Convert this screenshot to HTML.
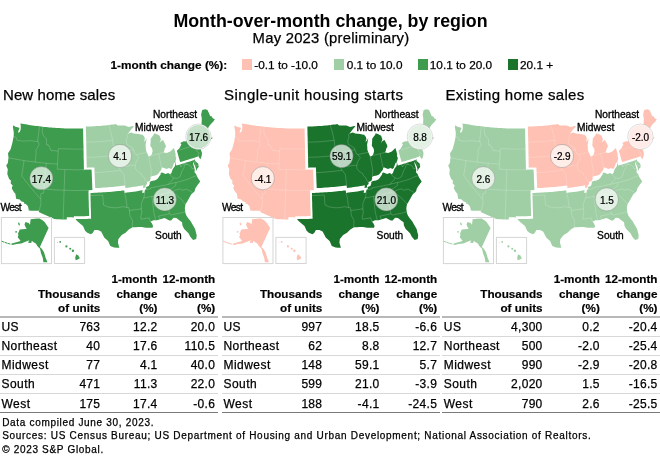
<!DOCTYPE html>
<html><head><meta charset="utf-8">
<style>
html,body{margin:0;padding:0;background:#fff;}
body{width:660px;height:466px;position:relative;overflow:hidden;font-family:"Liberation Sans",sans-serif;color:#000;}
svg.map{position:absolute;left:0;top:0;font-family:"Liberation Sans",sans-serif;}
.t{position:absolute;white-space:nowrap;}
body{will-change:transform;}
.t{-webkit-text-stroke:.25px #000;}
.t.b{-webkit-text-stroke:.18px #000;}
.t.ti{-webkit-text-stroke:0;}
.sw,.ln{position:absolute;}
</style></head><body>
<svg class="map" width="660" height="466" viewBox="0 0 660 466">
<g><path d="M13.3,125.2 15.4,126.8 18.4,127.6 19.6,127.9 18.5,130.6 18.0,132.8 19.8,132.1 20.7,129.2 20.8,126.1 20.4,123.4 22.1,123.7 23.8,124.0 25.6,124.3 27.3,124.6 29.0,124.9 30.8,125.2 32.5,125.4 34.2,125.7 35.9,125.9 37.7,126.1 39.4,126.3 41.1,126.5 42.8,126.7 44.5,126.9 46.2,127.1 47.8,127.2 49.5,127.4 51.2,127.5 52.9,127.7 54.6,127.8 56.3,127.9 58.0,128.0 59.7,128.1 61.4,128.2 63.0,128.3 64.9,128.4 66.7,128.4 68.5,128.5 70.3,128.5 72.2,128.6 74.0,128.6 75.8,128.6 77.6,128.6 79.4,128.6 81.3,128.6 83.1,128.5 83.1,131.1 83.2,133.7 83.2,136.3 83.3,139.0 83.3,141.6 83.4,144.2 83.5,147.2 83.5,150.3 83.6,153.3 83.6,156.3 83.7,159.4 83.8,161.9 83.8,164.5 83.9,167.1 83.9,169.7 85.8,169.6 87.7,169.6 89.6,169.5 91.5,169.5 91.7,172.0 91.8,174.6 91.9,177.2 92.0,179.8 92.1,182.4 92.2,185.0 92.3,187.6 92.4,190.1 88.6,190.3 88.5,192.9 88.6,195.4 88.6,198.0 88.7,200.6 88.8,203.2 88.8,205.8 88.9,208.3 89.0,210.9 89.1,213.5 89.1,216.1 86.9,216.1 84.7,216.2 82.5,216.2 80.3,216.2 78.1,216.2 75.9,216.2 73.7,216.2 74.1,217.4 71.7,217.3 69.3,217.3 66.8,217.2 66.8,219.6 64.3,219.5 61.8,219.4 59.3,219.3 56.8,219.2 54.3,219.0 52.1,218.1 49.8,217.1 47.6,216.1 45.3,215.0 43.1,214.0 40.9,212.9 38.7,211.9 39.2,210.7 36.6,210.7 34.0,210.7 31.4,210.7 28.8,210.6 28.5,208.6 27.8,205.9 25.5,203.8 24.2,203.7 24.0,202.2 21.2,201.2 19.7,199.6 16.1,198.8 15.8,196.4 15.4,193.7 13.8,191.9 11.9,188.4 12.0,186.9 12.8,185.7 10.7,183.5 10.9,180.4 9.1,179.0 7.3,173.9 7.8,169.2 6.2,165.5 7.9,162.9 8.2,160.3 8.5,157.8 8.0,153.3 10.6,149.2 11.5,146.0 12.4,142.8 13.0,139.7 13.6,136.7 13.8,133.1 13.4,130.1 12.9,127.2Z" fill="#3E9C4E"/>
<path d="M13.5,136.4 16.2,137.5 17.1,140.3 19.0,140.6 20.8,140.9 22.7,141.2 24.7,141.1 26.6,140.9 28.5,140.8 30.7,140.7 32.5,140.9 34.3,141.2 36.2,141.4 38.0,141.6 M38.0,141.6 37.8,139.5 38.1,136.9 38.5,134.2 38.8,131.6 39.1,129.0 39.4,126.3 M38.0,141.6 39.2,144.4 37.7,147.3 35.9,150.2 36.2,152.8 35.9,155.9 35.5,159.0 35.1,162.1 M8.5,157.8 10.4,158.2 12.3,158.5 14.2,158.9 16.1,159.2 18.0,159.5 19.9,159.9 21.8,160.2 23.7,160.5 25.6,160.8 27.5,161.1 29.4,161.3 31.3,161.6 33.2,161.8 35.1,162.1 37.1,162.3 39.2,162.5 41.2,162.8 43.2,163.0 45.3,163.1 47.3,163.3 49.3,163.5 51.4,163.7 53.4,163.8 55.5,163.9 57.5,164.1 M24.0,160.5 23.7,163.1 23.3,165.7 22.9,168.2 22.5,170.8 22.1,173.3 21.7,175.9 23.5,178.2 25.3,180.6 27.1,182.9 29.0,185.3 30.8,187.6 32.8,189.9 34.7,192.2 36.7,194.5 38.6,196.8 40.7,199.1 M46.3,163.2 46.0,165.8 45.8,168.4 45.6,171.0 45.3,173.5 45.1,176.1 44.9,178.7 44.7,181.3 44.4,183.9 44.2,186.4 44.0,189.0 43.6,193.1 40.9,193.7 40.8,196.4 40.7,199.1 41.0,203.3 40.1,207.0 39.2,210.7 M42.7,126.7 42.4,129.3 42.2,131.9 43.0,135.0 44.7,137.1 46.5,139.2 46.5,142.2 46.6,145.1 48.4,144.8 49.8,147.7 51.2,150.7 53.7,150.6 56.0,150.9 58.2,151.2 M58.4,148.6 58.2,151.2 58.1,153.7 57.9,156.3 57.8,158.9 57.6,161.5 57.5,164.1 57.4,166.6 57.2,169.2 59.1,169.3 61.0,169.4 62.9,169.5 64.8,169.6 M58.4,148.6 60.2,148.7 62.0,148.8 63.7,148.8 65.5,148.9 67.3,149.0 69.1,149.0 70.9,149.0 72.7,149.1 74.5,149.1 76.3,149.1 78.1,149.1 79.9,149.1 81.7,149.1 83.5,149.0 M64.8,169.6 66.7,169.6 68.7,169.7 70.6,169.7 72.5,169.7 74.4,169.8 76.3,169.8 78.2,169.8 80.1,169.7 82.0,169.7 83.9,169.7 85.8,169.6 87.7,169.6 89.6,169.5 91.5,169.5 M64.8,169.6 64.7,172.2 64.7,174.8 64.6,177.5 64.5,180.1 64.4,182.7 64.3,185.4 64.2,188.0 64.1,190.6 64.0,193.2 63.9,195.9 63.8,198.5 63.8,201.1 63.7,203.7 63.6,206.4 63.5,209.0 63.4,211.6 63.3,214.2 63.2,216.8 63.1,219.4 M44.0,189.0 46.0,189.2 48.0,189.3 50.0,189.5 52.1,189.6 54.1,189.8 56.1,189.9 58.1,190.0 60.2,190.1 62.2,190.2 64.2,190.2 66.3,190.3 68.3,190.4 70.3,190.4 72.3,190.4 74.4,190.5 76.4,190.5 78.4,190.5 80.5,190.4 82.5,190.4 84.5,190.4 86.5,190.3 88.6,190.3" fill="none" stroke="#fff" stroke-opacity=".38" stroke-width=".5"/>
<path d="M85.9,126.5 87.7,126.5 89.4,126.4 91.2,126.4 92.9,126.3 94.7,126.2 96.5,126.1 98.2,126.0 100.0,125.9 101.8,125.8 103.5,125.6 105.3,125.4 107.0,125.2 108.8,125.0 110.5,124.8 112.3,124.6 114.0,124.4 115.8,124.1 117.1,125.0 117.8,125.4 119.7,125.5 121.6,125.6 124.7,125.6 126.7,126.3 128.7,126.9 130.7,126.4 132.7,125.9 134.0,126.3 131.5,129.0 129.6,131.4 127.7,133.9 129.5,133.1 131.4,132.4 133.7,133.5 136.2,133.8 138.8,134.1 140.7,134.5 142.6,134.8 144.4,137.0 144.9,139.1 143.9,141.9 145.5,140.5 146.8,137.8 146.2,141.2 145.6,144.7 145.8,147.3 145.9,149.9 146.8,152.3 148.2,155.4 149.1,156.4 150.5,155.7 151.8,154.3 152.6,151.0 152.1,148.4 150.3,145.7 150.6,141.9 150.7,138.7 152.1,136.8 153.5,134.9 154.2,133.2 157.0,134.2 159.6,135.7 160.9,139.3 159.6,143.1 161.0,141.1 163.0,140.0 164.3,142.5 165.6,144.9 165.9,147.0 164.7,148.4 164.4,150.3 163.6,152.4 166.7,152.9 168.5,152.2 170.3,151.6 172.1,149.8 173.9,147.9 174.9,151.3 175.8,155.0 175.3,155.4 176.3,158.1 175.8,160.6 173.7,163.8 172.3,167.8 171.0,169.1 169.0,167.9 166.5,169.0 162.9,167.5 161.6,167.8 161.4,169.7 159.9,171.4 159.0,172.8 157.6,174.6 155.3,175.6 152.4,176.0 150.5,177.1 150.7,178.7 149.7,181.0 146.9,182.1 147.2,184.1 145.8,184.9 145.5,186.3 145.6,187.6 143.0,188.0 143.4,185.3 141.2,185.7 139.0,186.1 136.7,186.5 134.5,186.8 132.2,187.1 130.0,187.5 127.7,187.8 125.5,188.1 125.1,185.5 123.0,185.8 120.9,186.0 118.7,186.3 116.6,186.5 114.5,186.7 112.3,186.9 110.2,187.1 108.1,187.3 105.9,187.5 103.8,187.6 101.6,187.8 99.5,187.9 97.4,188.0 95.2,188.1 95.1,185.5 95.0,183.0 94.9,180.4 94.8,177.8 94.7,175.2 94.6,172.6 94.5,170.0 94.4,167.4 92.4,167.5 90.5,167.6 88.6,167.6 86.7,167.7 86.7,165.1 86.6,162.5 86.6,159.9 86.5,157.3 86.5,154.8 86.4,152.2 86.4,149.6 86.3,147.0 86.3,144.5 86.2,141.9 86.2,139.3 86.1,136.7 86.0,134.2 86.0,131.6 85.9,129.1Z" fill="#A0CFA5"/>
<path d="M86.2,142.2 88.1,142.1 90.0,142.1 91.9,142.0 93.8,141.9 95.7,141.9 97.6,141.8 99.5,141.7 101.3,141.5 103.2,141.3 105.1,141.1 107.0,140.9 108.9,140.7 110.8,140.5 112.7,140.3 M108.8,125.0 109.8,128.5 110.8,132.0 111.4,134.7 112.0,137.5 112.7,140.3 113.0,143.6 113.4,146.6 113.9,149.7 114.3,152.7 M86.5,157.3 88.4,157.3 90.3,157.2 92.1,157.2 94.0,157.1 95.9,157.0 97.7,156.9 99.6,156.8 101.4,156.7 103.3,156.5 105.2,156.3 107.0,156.1 109.5,156.3 111.9,156.4 114.9,157.8 M114.3,152.7 114.2,156.9 114.9,157.8 M114.3,152.7 116.3,152.5 118.2,152.2 120.1,151.9 122.0,151.7 123.9,151.4 125.8,151.1 127.7,150.8 129.7,150.4 131.6,150.1 133.5,149.8 M133.5,149.8 132.8,147.8 130.7,146.6 128.7,145.4 126.7,144.4 126.3,140.1 127.5,137.3 127.0,134.2 M94.6,172.6 96.6,172.5 98.6,172.4 100.6,172.3 102.6,172.2 104.6,172.0 106.6,171.8 108.6,171.7 110.6,171.5 112.6,171.3 114.6,171.0 116.6,170.8 118.6,170.6 120.6,170.3 M114.9,157.8 116.8,160.2 117.4,162.7 117.9,165.3 118.9,167.3 120.6,170.3 122.5,172.8 123.9,174.7 124.2,177.4 124.5,180.1 124.8,182.8 125.1,185.5 M118.5,167.4 120.4,167.1 122.4,166.9 124.3,166.6 126.2,166.3 128.2,166.0 130.1,165.7 132.0,165.4 134.0,165.1 135.3,166.0 M133.5,149.8 134.6,153.5 136.3,154.5 138.8,157.7 137.7,159.4 135.9,162.5 135.3,166.0 135.2,168.2 137.9,171.6 141.2,173.6 141.5,175.2 144.4,177.8 145.3,180.8 146.9,182.1 M136.3,154.5 138.4,154.1 140.5,153.6 142.6,153.2 144.7,152.8 146.8,152.3 M148.6,156.1 149.2,159.2 149.8,162.4 150.4,165.6 151.0,168.8 151.3,171.7 151.1,174.4 150.9,177.0 M149.8,155.8 152.0,155.3 154.2,154.8 156.4,154.3 158.7,153.7 M158.6,153.7 159.2,156.5 159.8,159.3 160.4,162.2 161.0,165.0 161.6,167.8 M158.7,153.7 161.1,153.0 163.6,152.3" fill="none" stroke="#fff" stroke-opacity=".38" stroke-width=".5"/>
<path d="M90.5,193.0 92.7,192.9 94.8,192.8 96.9,192.7 99.0,192.6 101.1,192.5 103.2,192.3 105.3,192.2 107.4,192.0 109.6,191.9 111.7,191.7 113.8,191.5 115.9,191.3 118.0,191.1 120.1,190.9 122.2,190.6 124.3,190.4 124.6,192.9 126.9,192.6 129.1,192.3 131.4,192.0 133.6,191.7 135.9,191.4 138.1,191.0 140.4,190.6 142.6,190.3 142.2,193.0 144.7,192.5 144.6,191.2 145.0,189.8 146.3,189.1 146.1,187.0 148.8,186.0 149.8,183.7 149.7,182.1 151.5,181.0 154.5,180.6 156.7,179.6 158.2,177.9 159.1,176.4 160.5,174.8 160.8,172.9 162.0,172.6 165.6,174.1 168.2,173.0 170.1,174.2 171.4,172.9 172.8,168.9 175.0,166.0 175.4,163.7 174.5,161.3 175.0,161.0 176.3,165.5 178.2,165.0 180.1,164.4 182.1,163.8 184.1,163.2 186.0,162.6 188.0,162.0 189.9,161.4 191.9,160.7 193.8,160.1 195.1,159.2 194.9,160.4 196.0,161.7 198.1,163.6 198.6,165.3 198.7,166.9 197.3,168.6 195.8,171.5 196.0,169.1 195.4,166.8 194.0,163.9 193.0,161.6 193.0,163.8 194.1,167.3 194.7,169.5 194.6,172.5 196.1,174.0 197.4,177.3 200.2,181.6 198.7,183.6 197.2,185.6 195.3,188.5 194.6,191.3 193.2,192.7 191.5,194.1 190.0,196.6 188.5,199.2 187.1,201.8 185.5,204.3 184.8,208.3 185.4,212.9 186.5,215.7 188.4,218.4 190.7,221.2 192.2,223.9 193.7,226.6 195.2,229.3 195.9,232.3 196.7,235.3 196.2,238.9 193.1,240.1 190.3,236.7 188.5,233.2 184.2,229.1 182.4,225.4 182.1,222.2 179.9,220.7 176.4,217.9 173.6,217.7 171.1,220.4 169.3,220.6 164.6,218.0 162.1,218.8 159.5,219.5 157.0,220.3 153.4,220.2 150.5,221.8 151.7,223.1 153.1,226.0 152.5,227.7 149.3,227.7 145.7,227.8 141.5,226.9 138.3,227.1 135.4,227.2 132.5,227.2 128.8,229.5 125.5,232.7 121.7,235.1 118.4,239.0 117.9,242.6 118.6,245.1 119.3,247.6 119.5,247.8 116.8,247.7 114.1,247.5 110.3,246.1 109.2,243.5 108.1,240.9 104.2,237.6 102.7,234.6 101.1,231.6 97.9,230.0 94.4,229.9 92.7,233.0 90.9,234.2 87.3,232.7 85.1,230.7 83.0,226.1 78.8,222.5 76.1,220.1 75.7,218.9 77.9,218.9 80.1,218.9 82.3,218.9 84.5,218.9 86.7,218.9 88.9,218.8 91.1,218.7 91.0,216.2 91.0,213.6 90.9,211.0 90.8,208.5 90.7,205.9 90.7,203.3 90.6,200.7 90.5,198.1 90.5,195.6Z" fill="#3E9C4E"/>
<path d="M90.5,195.6 92.5,195.5 94.6,195.4 96.6,195.3 98.7,195.2 100.8,195.1 102.8,195.0 103.0,198.3 103.2,201.6 103.5,205.0 105.8,206.0 108.2,207.0 111.2,207.4 114.2,207.8 116.3,207.7 118.4,207.6 120.5,207.2 122.6,206.7 124.8,207.1 127.0,207.5 M124.6,192.9 125.3,195.7 126.0,198.5 126.3,201.5 126.7,204.5 127.0,207.5 128.9,207.7 129.3,210.5 M129.3,210.5 131.7,210.2 134.1,209.9 136.5,209.5 139.0,209.2 141.4,208.8 M129.3,210.5 129.6,213.2 130.0,215.9 132.5,220.5 132.3,224.1 132.3,227.2 M144.7,192.5 144.0,197.4 143.4,198.5 141.3,203.6 141.3,206.2 141.4,208.8 141.8,212.3 140.8,216.7 141.0,219.2 143.7,218.8 146.5,218.3 149.2,217.9 150.5,221.8 M143.3,198.0 145.4,197.6 147.4,197.3 149.4,196.9 151.5,196.5 153.5,196.1 155.6,195.7 157.6,195.3 159.6,194.8 161.6,194.4 163.7,193.9 165.7,193.5 167.7,193.0 170.1,192.4 172.6,191.8 M145.0,189.8 148.0,189.3 150.9,188.7 150.7,187.8 152.9,187.4 155.1,187.0 157.3,186.6 159.5,186.2 161.7,185.8 163.9,185.3 166.1,184.8 168.3,184.4 170.9,183.7 173.5,183.1 176.1,182.4 M151.9,196.4 152.2,199.1 152.5,201.7 152.9,204.4 153.2,207.0 153.5,209.7 153.8,212.3 154.4,214.8 155.0,217.3 155.5,219.8 M162.5,194.2 163.6,196.8 164.7,199.4 165.8,202.0 166.9,204.6 168.0,207.2 168.8,210.5 169.5,213.7 167.3,214.2 165.1,214.7 162.9,215.2 160.6,215.7 158.4,216.1 159.9,219.0 M169.5,213.7 170.5,215.1 172.9,214.6 175.4,214.1 177.9,213.6 180.3,213.1 182.8,212.5 185.0,211.4 M172.6,191.8 175.0,193.8 177.5,195.9 181.6,199.6 183.5,201.8 185.5,204.1 M167.7,193.0 170.3,189.5 172.1,188.2 173.9,186.9 175.7,185.7 176.1,182.4 M172.6,191.8 175.5,190.0 178.0,189.4 180.6,188.9 182.1,190.3 184.3,189.7 186.5,189.1 189.5,190.7 192.5,192.4 M176.2,182.6 178.3,182.0 180.3,181.4 182.4,180.9 184.4,180.3 186.5,179.6 188.6,179.0 189.9,178.4 191.1,177.7 192.5,177.1 194.5,176.4 196.6,175.7 M168.3,184.4 170.5,181.9 172.8,179.5 173.7,177.9 170.4,175.3 170.1,174.2 M173.7,177.9 177.1,178.6 180.2,176.4 182.0,171.0 183.9,167.7 184.8,164.5 187.2,164.4 190.3,165.7 190.8,166.1 192.2,168.9 194.8,168.2 M180.1,164.4 180.9,167.0 182.9,164.3 184.9,163.1 187.2,164.4 M193.8,160.1 195.0,163.1 196.3,165.9 198.7,165.1" fill="none" stroke="#fff" stroke-opacity=".38" stroke-width=".5"/>
<path d="M176.9,150.8 179.3,148.6 181.4,144.5 180.3,142.9 182.1,142.1 183.9,141.3 185.5,141.4 187.1,140.5 188.7,139.5 189.9,138.3 188.5,135.3 189.9,133.7 189.9,130.1 190.8,129.5 192.6,128.8 194.4,128.2 196.2,127.5 198.0,126.8 199.8,126.1 201.4,125.4 201.5,123.2 201.7,122.1 201.8,118.5 201.1,114.6 202.2,109.9 205.3,109.2 207.5,109.9 208.9,113.1 210.3,116.3 211.6,116.2 212.7,118.3 214.8,119.3 213.4,121.6 210.9,123.9 209.6,125.5 207.9,128.3 207.4,129.9 208.1,133.3 208.0,134.8 209.1,135.5 208.4,137.8 210.4,138.1 212.3,137.6 211.8,136.1 212.6,138.0 210.5,139.4 209.6,141.7 207.3,143.6 205.5,144.5 203.7,145.4 201.6,147.5 200.7,149.5 201.2,150.7 202.0,152.9 201.7,155.8 200.5,159.3 199.4,157.9 198.6,156.8 198.4,155.7 197.7,156.6 195.7,157.2 193.8,157.9 191.9,158.5 189.9,159.1 188.0,159.7 186.0,160.3 184.0,160.9 182.1,161.5 180.1,162.1 179.3,159.2 178.5,156.4 177.7,153.6Z" fill="#3E9C4E"/>
<path d="M179.6,149.9 181.6,149.3 183.6,148.7 185.6,148.1 187.6,147.5 189.6,146.9 191.5,146.2 193.5,145.6 194.7,144.9 195.2,145.6 197.1,147.3 M197.1,147.3 200.2,148.1 200.7,149.5 M197.1,147.3 196.7,150.0 197.2,151.5 199.1,152.9 198.3,154.6 198.4,155.7 M195.4,127.8 196.6,131.2 197.9,134.6 199.7,138.6 200.1,142.3 201.8,146.9 201.4,147.6 M202.2,137.8 201.3,133.9 201.0,129.5 201.4,125.4 M199.8,138.7 202.0,137.8 204.3,137.0 206.5,136.1 207.7,135.0 M201.5,123.2 202.5,125.5 203.5,127.8 204.7,130.3 206.2,132.8 207.8,133.5 M200.1,142.4 202.1,141.7 204.1,140.9 206.1,140.2 207.6,139.6 207.8,140.2 209.5,141.8 M206.1,140.2 207.5,143.7" fill="none" stroke="#fff" stroke-opacity=".38" stroke-width=".5"/><rect x="1.4" y="217.5" width="50.1" height="46.1" fill="none" stroke="#d5d5d5" stroke-width="1"/>
<rect x="54.4" y="237.4" width="30.2" height="26.1" fill="none" stroke="#d5d5d5" stroke-width="1"/>
<path d="M30.6,219.2 35.0,218.7 39.4,218.6 42.5,220.2 44.6,222.1 48.6,227.9 39.9,247.0 42.0,249.0 44.0,252.2 45.7,258.0 47.5,262.2 43.4,262.2 42.8,258.0 41.1,253.4 40.0,248.7 37.5,246.2 35.8,243.5 33.2,242.0 31.9,240.8 31.2,243.0 28.0,242.7 29.3,240.3 26.1,241.6 21.3,243.6 16.4,244.1 12.6,244.9 10.8,244.0 12.6,243.3 16.4,242.3 20.6,241.0 19.7,239.8 17.7,237.2 18.4,235.3 18.0,233.4 19.0,231.5 19.7,229.5 25.5,228.9 26.7,228.9 25.5,226.9 24.5,224.4 25.5,222.1 28.7,223.1 30.0,224.7Z" fill="#3E9C4E"/>
<path d="M2.0,241.3 L3.8,242.1" stroke="#3E9C4E" stroke-width="1" stroke-linecap="round"/>
<path d="M5.0,242.4 L7.0,243.2" stroke="#3E9C4E" stroke-width="1" stroke-linecap="round"/>
<path d="M8.0,243.4 L10.0,244.0" stroke="#3E9C4E" stroke-width="1" stroke-linecap="round"/>
<ellipse cx="19" cy="224" rx=".7" ry="1.5" fill="#3E9C4E" transform="rotate(-20 19 224)"/><ellipse cx="16.1" cy="231.9" rx=".9" ry=".8" fill="#3E9C4E"/>
<circle cx="57.5" cy="242.6" r="0.45" fill="#3E9C4E"/>
<circle cx="60.2" cy="241.9" r="0.9" fill="#3E9C4E"/>
<circle cx="66.4" cy="246.4" r="1.1" fill="#3E9C4E"/>
<circle cx="70.2" cy="248.8" r="1.0" fill="#3E9C4E"/>
<circle cx="72.9" cy="250.8" r="1.2" fill="#3E9C4E"/>
<path d="M76.2,254.3 L78.2,255.6 L79.9,258.2 L77.8,259.6 L75.6,260.2 L75.2,257.5 Z" fill="#3E9C4E"/>
<circle cx="41.3" cy="178.2" r="11.6" fill="#fff" fill-opacity=".7" stroke="#6e6e6e" stroke-opacity=".45" stroke-width=".8"/>
<text x="41.4" y="182.6" text-anchor="middle" font-size="10" letter-spacing="-.1" stroke="#000" stroke-width=".22">17.4</text>
<circle cx="120" cy="156" r="11.6" fill="#fff" fill-opacity=".7" stroke="#6e6e6e" stroke-opacity=".45" stroke-width=".8"/>
<text x="120.1" y="160.4" text-anchor="middle" font-size="10" letter-spacing="-.1" stroke="#000" stroke-width=".22">4.1</text>
<circle cx="164.8" cy="199.4" r="11.6" fill="#fff" fill-opacity=".7" stroke="#6e6e6e" stroke-opacity=".45" stroke-width=".8"/>
<text x="164.9" y="203.8" text-anchor="middle" font-size="10" letter-spacing="-.1" stroke="#000" stroke-width=".22">11.3</text>
<circle cx="198.4" cy="136.7" r="12.7" fill="#fff" stroke="#8c8c8c" stroke-opacity=".5" stroke-width=".6"/>
<circle cx="198.4" cy="136.7" r="11.7" fill="#c5e1ca"/>
<text x="198.5" y="141.1" text-anchor="middle" font-size="10" letter-spacing="-.1" stroke="#000" stroke-width=".22">17.6</text>
<text x="153.0" y="117.9" font-size="10.2" stroke="#000" stroke-width=".32" letter-spacing="0">Northeast</text>
<text x="135.0" y="130.8" font-size="10.2" stroke="#000" stroke-width=".32" letter-spacing="0">Midwest</text>
<text x="0.4" y="210.70000000000002" font-size="10.2" stroke="#000" stroke-width=".32" letter-spacing="-0.6">West</text>
<text x="155.1" y="239.0" font-size="10.2" stroke="#000" stroke-width=".32" letter-spacing="0">South</text></g>
<g transform="translate(221.5,0)"><path d="M13.3,125.2 15.4,126.8 18.4,127.6 19.6,127.9 18.5,130.6 18.0,132.8 19.8,132.1 20.7,129.2 20.8,126.1 20.4,123.4 22.1,123.7 23.8,124.0 25.6,124.3 27.3,124.6 29.0,124.9 30.8,125.2 32.5,125.4 34.2,125.7 35.9,125.9 37.7,126.1 39.4,126.3 41.1,126.5 42.8,126.7 44.5,126.9 46.2,127.1 47.8,127.2 49.5,127.4 51.2,127.5 52.9,127.7 54.6,127.8 56.3,127.9 58.0,128.0 59.7,128.1 61.4,128.2 63.0,128.3 64.9,128.4 66.7,128.4 68.5,128.5 70.3,128.5 72.2,128.6 74.0,128.6 75.8,128.6 77.6,128.6 79.4,128.6 81.3,128.6 83.1,128.5 83.1,131.1 83.2,133.7 83.2,136.3 83.3,139.0 83.3,141.6 83.4,144.2 83.5,147.2 83.5,150.3 83.6,153.3 83.6,156.3 83.7,159.4 83.8,161.9 83.8,164.5 83.9,167.1 83.9,169.7 85.8,169.6 87.7,169.6 89.6,169.5 91.5,169.5 91.7,172.0 91.8,174.6 91.9,177.2 92.0,179.8 92.1,182.4 92.2,185.0 92.3,187.6 92.4,190.1 88.6,190.3 88.5,192.9 88.6,195.4 88.6,198.0 88.7,200.6 88.8,203.2 88.8,205.8 88.9,208.3 89.0,210.9 89.1,213.5 89.1,216.1 86.9,216.1 84.7,216.2 82.5,216.2 80.3,216.2 78.1,216.2 75.9,216.2 73.7,216.2 74.1,217.4 71.7,217.3 69.3,217.3 66.8,217.2 66.8,219.6 64.3,219.5 61.8,219.4 59.3,219.3 56.8,219.2 54.3,219.0 52.1,218.1 49.8,217.1 47.6,216.1 45.3,215.0 43.1,214.0 40.9,212.9 38.7,211.9 39.2,210.7 36.6,210.7 34.0,210.7 31.4,210.7 28.8,210.6 28.5,208.6 27.8,205.9 25.5,203.8 24.2,203.7 24.0,202.2 21.2,201.2 19.7,199.6 16.1,198.8 15.8,196.4 15.4,193.7 13.8,191.9 11.9,188.4 12.0,186.9 12.8,185.7 10.7,183.5 10.9,180.4 9.1,179.0 7.3,173.9 7.8,169.2 6.2,165.5 7.9,162.9 8.2,160.3 8.5,157.8 8.0,153.3 10.6,149.2 11.5,146.0 12.4,142.8 13.0,139.7 13.6,136.7 13.8,133.1 13.4,130.1 12.9,127.2Z" fill="#FEC1B3"/>
<path d="M13.5,136.4 16.2,137.5 17.1,140.3 19.0,140.6 20.8,140.9 22.7,141.2 24.7,141.1 26.6,140.9 28.5,140.8 30.7,140.7 32.5,140.9 34.3,141.2 36.2,141.4 38.0,141.6 M38.0,141.6 37.8,139.5 38.1,136.9 38.5,134.2 38.8,131.6 39.1,129.0 39.4,126.3 M38.0,141.6 39.2,144.4 37.7,147.3 35.9,150.2 36.2,152.8 35.9,155.9 35.5,159.0 35.1,162.1 M8.5,157.8 10.4,158.2 12.3,158.5 14.2,158.9 16.1,159.2 18.0,159.5 19.9,159.9 21.8,160.2 23.7,160.5 25.6,160.8 27.5,161.1 29.4,161.3 31.3,161.6 33.2,161.8 35.1,162.1 37.1,162.3 39.2,162.5 41.2,162.8 43.2,163.0 45.3,163.1 47.3,163.3 49.3,163.5 51.4,163.7 53.4,163.8 55.5,163.9 57.5,164.1 M24.0,160.5 23.7,163.1 23.3,165.7 22.9,168.2 22.5,170.8 22.1,173.3 21.7,175.9 23.5,178.2 25.3,180.6 27.1,182.9 29.0,185.3 30.8,187.6 32.8,189.9 34.7,192.2 36.7,194.5 38.6,196.8 40.7,199.1 M46.3,163.2 46.0,165.8 45.8,168.4 45.6,171.0 45.3,173.5 45.1,176.1 44.9,178.7 44.7,181.3 44.4,183.9 44.2,186.4 44.0,189.0 43.6,193.1 40.9,193.7 40.8,196.4 40.7,199.1 41.0,203.3 40.1,207.0 39.2,210.7 M42.7,126.7 42.4,129.3 42.2,131.9 43.0,135.0 44.7,137.1 46.5,139.2 46.5,142.2 46.6,145.1 48.4,144.8 49.8,147.7 51.2,150.7 53.7,150.6 56.0,150.9 58.2,151.2 M58.4,148.6 58.2,151.2 58.1,153.7 57.9,156.3 57.8,158.9 57.6,161.5 57.5,164.1 57.4,166.6 57.2,169.2 59.1,169.3 61.0,169.4 62.9,169.5 64.8,169.6 M58.4,148.6 60.2,148.7 62.0,148.8 63.7,148.8 65.5,148.9 67.3,149.0 69.1,149.0 70.9,149.0 72.7,149.1 74.5,149.1 76.3,149.1 78.1,149.1 79.9,149.1 81.7,149.1 83.5,149.0 M64.8,169.6 66.7,169.6 68.7,169.7 70.6,169.7 72.5,169.7 74.4,169.8 76.3,169.8 78.2,169.8 80.1,169.7 82.0,169.7 83.9,169.7 85.8,169.6 87.7,169.6 89.6,169.5 91.5,169.5 M64.8,169.6 64.7,172.2 64.7,174.8 64.6,177.5 64.5,180.1 64.4,182.7 64.3,185.4 64.2,188.0 64.1,190.6 64.0,193.2 63.9,195.9 63.8,198.5 63.8,201.1 63.7,203.7 63.6,206.4 63.5,209.0 63.4,211.6 63.3,214.2 63.2,216.8 63.1,219.4 M44.0,189.0 46.0,189.2 48.0,189.3 50.0,189.5 52.1,189.6 54.1,189.8 56.1,189.9 58.1,190.0 60.2,190.1 62.2,190.2 64.2,190.2 66.3,190.3 68.3,190.4 70.3,190.4 72.3,190.4 74.4,190.5 76.4,190.5 78.4,190.5 80.5,190.4 82.5,190.4 84.5,190.4 86.5,190.3 88.6,190.3" fill="none" stroke="#fff" stroke-opacity=".38" stroke-width=".5"/>
<path d="M85.9,126.5 87.7,126.5 89.4,126.4 91.2,126.4 92.9,126.3 94.7,126.2 96.5,126.1 98.2,126.0 100.0,125.9 101.8,125.8 103.5,125.6 105.3,125.4 107.0,125.2 108.8,125.0 110.5,124.8 112.3,124.6 114.0,124.4 115.8,124.1 117.1,125.0 117.8,125.4 119.7,125.5 121.6,125.6 124.7,125.6 126.7,126.3 128.7,126.9 130.7,126.4 132.7,125.9 134.0,126.3 131.5,129.0 129.6,131.4 127.7,133.9 129.5,133.1 131.4,132.4 133.7,133.5 136.2,133.8 138.8,134.1 140.7,134.5 142.6,134.8 144.4,137.0 144.9,139.1 143.9,141.9 145.5,140.5 146.8,137.8 146.2,141.2 145.6,144.7 145.8,147.3 145.9,149.9 146.8,152.3 148.2,155.4 149.1,156.4 150.5,155.7 151.8,154.3 152.6,151.0 152.1,148.4 150.3,145.7 150.6,141.9 150.7,138.7 152.1,136.8 153.5,134.9 154.2,133.2 157.0,134.2 159.6,135.7 160.9,139.3 159.6,143.1 161.0,141.1 163.0,140.0 164.3,142.5 165.6,144.9 165.9,147.0 164.7,148.4 164.4,150.3 163.6,152.4 166.7,152.9 168.5,152.2 170.3,151.6 172.1,149.8 173.9,147.9 174.9,151.3 175.8,155.0 175.3,155.4 176.3,158.1 175.8,160.6 173.7,163.8 172.3,167.8 171.0,169.1 169.0,167.9 166.5,169.0 162.9,167.5 161.6,167.8 161.4,169.7 159.9,171.4 159.0,172.8 157.6,174.6 155.3,175.6 152.4,176.0 150.5,177.1 150.7,178.7 149.7,181.0 146.9,182.1 147.2,184.1 145.8,184.9 145.5,186.3 145.6,187.6 143.0,188.0 143.4,185.3 141.2,185.7 139.0,186.1 136.7,186.5 134.5,186.8 132.2,187.1 130.0,187.5 127.7,187.8 125.5,188.1 125.1,185.5 123.0,185.8 120.9,186.0 118.7,186.3 116.6,186.5 114.5,186.7 112.3,186.9 110.2,187.1 108.1,187.3 105.9,187.5 103.8,187.6 101.6,187.8 99.5,187.9 97.4,188.0 95.2,188.1 95.1,185.5 95.0,183.0 94.9,180.4 94.8,177.8 94.7,175.2 94.6,172.6 94.5,170.0 94.4,167.4 92.4,167.5 90.5,167.6 88.6,167.6 86.7,167.7 86.7,165.1 86.6,162.5 86.6,159.9 86.5,157.3 86.5,154.8 86.4,152.2 86.4,149.6 86.3,147.0 86.3,144.5 86.2,141.9 86.2,139.3 86.1,136.7 86.0,134.2 86.0,131.6 85.9,129.1Z" fill="#1A742C"/>
<path d="M86.2,142.2 88.1,142.1 90.0,142.1 91.9,142.0 93.8,141.9 95.7,141.9 97.6,141.8 99.5,141.7 101.3,141.5 103.2,141.3 105.1,141.1 107.0,140.9 108.9,140.7 110.8,140.5 112.7,140.3 M108.8,125.0 109.8,128.5 110.8,132.0 111.4,134.7 112.0,137.5 112.7,140.3 113.0,143.6 113.4,146.6 113.9,149.7 114.3,152.7 M86.5,157.3 88.4,157.3 90.3,157.2 92.1,157.2 94.0,157.1 95.9,157.0 97.7,156.9 99.6,156.8 101.4,156.7 103.3,156.5 105.2,156.3 107.0,156.1 109.5,156.3 111.9,156.4 114.9,157.8 M114.3,152.7 114.2,156.9 114.9,157.8 M114.3,152.7 116.3,152.5 118.2,152.2 120.1,151.9 122.0,151.7 123.9,151.4 125.8,151.1 127.7,150.8 129.7,150.4 131.6,150.1 133.5,149.8 M133.5,149.8 132.8,147.8 130.7,146.6 128.7,145.4 126.7,144.4 126.3,140.1 127.5,137.3 127.0,134.2 M94.6,172.6 96.6,172.5 98.6,172.4 100.6,172.3 102.6,172.2 104.6,172.0 106.6,171.8 108.6,171.7 110.6,171.5 112.6,171.3 114.6,171.0 116.6,170.8 118.6,170.6 120.6,170.3 M114.9,157.8 116.8,160.2 117.4,162.7 117.9,165.3 118.9,167.3 120.6,170.3 122.5,172.8 123.9,174.7 124.2,177.4 124.5,180.1 124.8,182.8 125.1,185.5 M118.5,167.4 120.4,167.1 122.4,166.9 124.3,166.6 126.2,166.3 128.2,166.0 130.1,165.7 132.0,165.4 134.0,165.1 135.3,166.0 M133.5,149.8 134.6,153.5 136.3,154.5 138.8,157.7 137.7,159.4 135.9,162.5 135.3,166.0 135.2,168.2 137.9,171.6 141.2,173.6 141.5,175.2 144.4,177.8 145.3,180.8 146.9,182.1 M136.3,154.5 138.4,154.1 140.5,153.6 142.6,153.2 144.7,152.8 146.8,152.3 M148.6,156.1 149.2,159.2 149.8,162.4 150.4,165.6 151.0,168.8 151.3,171.7 151.1,174.4 150.9,177.0 M149.8,155.8 152.0,155.3 154.2,154.8 156.4,154.3 158.7,153.7 M158.6,153.7 159.2,156.5 159.8,159.3 160.4,162.2 161.0,165.0 161.6,167.8 M158.7,153.7 161.1,153.0 163.6,152.3" fill="none" stroke="#fff" stroke-opacity=".38" stroke-width=".5"/>
<path d="M90.5,193.0 92.7,192.9 94.8,192.8 96.9,192.7 99.0,192.6 101.1,192.5 103.2,192.3 105.3,192.2 107.4,192.0 109.6,191.9 111.7,191.7 113.8,191.5 115.9,191.3 118.0,191.1 120.1,190.9 122.2,190.6 124.3,190.4 124.6,192.9 126.9,192.6 129.1,192.3 131.4,192.0 133.6,191.7 135.9,191.4 138.1,191.0 140.4,190.6 142.6,190.3 142.2,193.0 144.7,192.5 144.6,191.2 145.0,189.8 146.3,189.1 146.1,187.0 148.8,186.0 149.8,183.7 149.7,182.1 151.5,181.0 154.5,180.6 156.7,179.6 158.2,177.9 159.1,176.4 160.5,174.8 160.8,172.9 162.0,172.6 165.6,174.1 168.2,173.0 170.1,174.2 171.4,172.9 172.8,168.9 175.0,166.0 175.4,163.7 174.5,161.3 175.0,161.0 176.3,165.5 178.2,165.0 180.1,164.4 182.1,163.8 184.1,163.2 186.0,162.6 188.0,162.0 189.9,161.4 191.9,160.7 193.8,160.1 195.1,159.2 194.9,160.4 196.0,161.7 198.1,163.6 198.6,165.3 198.7,166.9 197.3,168.6 195.8,171.5 196.0,169.1 195.4,166.8 194.0,163.9 193.0,161.6 193.0,163.8 194.1,167.3 194.7,169.5 194.6,172.5 196.1,174.0 197.4,177.3 200.2,181.6 198.7,183.6 197.2,185.6 195.3,188.5 194.6,191.3 193.2,192.7 191.5,194.1 190.0,196.6 188.5,199.2 187.1,201.8 185.5,204.3 184.8,208.3 185.4,212.9 186.5,215.7 188.4,218.4 190.7,221.2 192.2,223.9 193.7,226.6 195.2,229.3 195.9,232.3 196.7,235.3 196.2,238.9 193.1,240.1 190.3,236.7 188.5,233.2 184.2,229.1 182.4,225.4 182.1,222.2 179.9,220.7 176.4,217.9 173.6,217.7 171.1,220.4 169.3,220.6 164.6,218.0 162.1,218.8 159.5,219.5 157.0,220.3 153.4,220.2 150.5,221.8 151.7,223.1 153.1,226.0 152.5,227.7 149.3,227.7 145.7,227.8 141.5,226.9 138.3,227.1 135.4,227.2 132.5,227.2 128.8,229.5 125.5,232.7 121.7,235.1 118.4,239.0 117.9,242.6 118.6,245.1 119.3,247.6 119.5,247.8 116.8,247.7 114.1,247.5 110.3,246.1 109.2,243.5 108.1,240.9 104.2,237.6 102.7,234.6 101.1,231.6 97.9,230.0 94.4,229.9 92.7,233.0 90.9,234.2 87.3,232.7 85.1,230.7 83.0,226.1 78.8,222.5 76.1,220.1 75.7,218.9 77.9,218.9 80.1,218.9 82.3,218.9 84.5,218.9 86.7,218.9 88.9,218.8 91.1,218.7 91.0,216.2 91.0,213.6 90.9,211.0 90.8,208.5 90.7,205.9 90.7,203.3 90.6,200.7 90.5,198.1 90.5,195.6Z" fill="#1A742C"/>
<path d="M90.5,195.6 92.5,195.5 94.6,195.4 96.6,195.3 98.7,195.2 100.8,195.1 102.8,195.0 103.0,198.3 103.2,201.6 103.5,205.0 105.8,206.0 108.2,207.0 111.2,207.4 114.2,207.8 116.3,207.7 118.4,207.6 120.5,207.2 122.6,206.7 124.8,207.1 127.0,207.5 M124.6,192.9 125.3,195.7 126.0,198.5 126.3,201.5 126.7,204.5 127.0,207.5 128.9,207.7 129.3,210.5 M129.3,210.5 131.7,210.2 134.1,209.9 136.5,209.5 139.0,209.2 141.4,208.8 M129.3,210.5 129.6,213.2 130.0,215.9 132.5,220.5 132.3,224.1 132.3,227.2 M144.7,192.5 144.0,197.4 143.4,198.5 141.3,203.6 141.3,206.2 141.4,208.8 141.8,212.3 140.8,216.7 141.0,219.2 143.7,218.8 146.5,218.3 149.2,217.9 150.5,221.8 M143.3,198.0 145.4,197.6 147.4,197.3 149.4,196.9 151.5,196.5 153.5,196.1 155.6,195.7 157.6,195.3 159.6,194.8 161.6,194.4 163.7,193.9 165.7,193.5 167.7,193.0 170.1,192.4 172.6,191.8 M145.0,189.8 148.0,189.3 150.9,188.7 150.7,187.8 152.9,187.4 155.1,187.0 157.3,186.6 159.5,186.2 161.7,185.8 163.9,185.3 166.1,184.8 168.3,184.4 170.9,183.7 173.5,183.1 176.1,182.4 M151.9,196.4 152.2,199.1 152.5,201.7 152.9,204.4 153.2,207.0 153.5,209.7 153.8,212.3 154.4,214.8 155.0,217.3 155.5,219.8 M162.5,194.2 163.6,196.8 164.7,199.4 165.8,202.0 166.9,204.6 168.0,207.2 168.8,210.5 169.5,213.7 167.3,214.2 165.1,214.7 162.9,215.2 160.6,215.7 158.4,216.1 159.9,219.0 M169.5,213.7 170.5,215.1 172.9,214.6 175.4,214.1 177.9,213.6 180.3,213.1 182.8,212.5 185.0,211.4 M172.6,191.8 175.0,193.8 177.5,195.9 181.6,199.6 183.5,201.8 185.5,204.1 M167.7,193.0 170.3,189.5 172.1,188.2 173.9,186.9 175.7,185.7 176.1,182.4 M172.6,191.8 175.5,190.0 178.0,189.4 180.6,188.9 182.1,190.3 184.3,189.7 186.5,189.1 189.5,190.7 192.5,192.4 M176.2,182.6 178.3,182.0 180.3,181.4 182.4,180.9 184.4,180.3 186.5,179.6 188.6,179.0 189.9,178.4 191.1,177.7 192.5,177.1 194.5,176.4 196.6,175.7 M168.3,184.4 170.5,181.9 172.8,179.5 173.7,177.9 170.4,175.3 170.1,174.2 M173.7,177.9 177.1,178.6 180.2,176.4 182.0,171.0 183.9,167.7 184.8,164.5 187.2,164.4 190.3,165.7 190.8,166.1 192.2,168.9 194.8,168.2 M180.1,164.4 180.9,167.0 182.9,164.3 184.9,163.1 187.2,164.4 M193.8,160.1 195.0,163.1 196.3,165.9 198.7,165.1" fill="none" stroke="#fff" stroke-opacity=".38" stroke-width=".5"/>
<path d="M176.9,150.8 179.3,148.6 181.4,144.5 180.3,142.9 182.1,142.1 183.9,141.3 185.5,141.4 187.1,140.5 188.7,139.5 189.9,138.3 188.5,135.3 189.9,133.7 189.9,130.1 190.8,129.5 192.6,128.8 194.4,128.2 196.2,127.5 198.0,126.8 199.8,126.1 201.4,125.4 201.5,123.2 201.7,122.1 201.8,118.5 201.1,114.6 202.2,109.9 205.3,109.2 207.5,109.9 208.9,113.1 210.3,116.3 211.6,116.2 212.7,118.3 214.8,119.3 213.4,121.6 210.9,123.9 209.6,125.5 207.9,128.3 207.4,129.9 208.1,133.3 208.0,134.8 209.1,135.5 208.4,137.8 210.4,138.1 212.3,137.6 211.8,136.1 212.6,138.0 210.5,139.4 209.6,141.7 207.3,143.6 205.5,144.5 203.7,145.4 201.6,147.5 200.7,149.5 201.2,150.7 202.0,152.9 201.7,155.8 200.5,159.3 199.4,157.9 198.6,156.8 198.4,155.7 197.7,156.6 195.7,157.2 193.8,157.9 191.9,158.5 189.9,159.1 188.0,159.7 186.0,160.3 184.0,160.9 182.1,161.5 180.1,162.1 179.3,159.2 178.5,156.4 177.7,153.6Z" fill="#A0CFA5"/>
<path d="M179.6,149.9 181.6,149.3 183.6,148.7 185.6,148.1 187.6,147.5 189.6,146.9 191.5,146.2 193.5,145.6 194.7,144.9 195.2,145.6 197.1,147.3 M197.1,147.3 200.2,148.1 200.7,149.5 M197.1,147.3 196.7,150.0 197.2,151.5 199.1,152.9 198.3,154.6 198.4,155.7 M195.4,127.8 196.6,131.2 197.9,134.6 199.7,138.6 200.1,142.3 201.8,146.9 201.4,147.6 M202.2,137.8 201.3,133.9 201.0,129.5 201.4,125.4 M199.8,138.7 202.0,137.8 204.3,137.0 206.5,136.1 207.7,135.0 M201.5,123.2 202.5,125.5 203.5,127.8 204.7,130.3 206.2,132.8 207.8,133.5 M200.1,142.4 202.1,141.7 204.1,140.9 206.1,140.2 207.6,139.6 207.8,140.2 209.5,141.8 M206.1,140.2 207.5,143.7" fill="none" stroke="#fff" stroke-opacity=".38" stroke-width=".5"/><rect x="1.4" y="217.5" width="50.1" height="46.1" fill="none" stroke="#d5d5d5" stroke-width="1"/>
<rect x="54.4" y="237.4" width="30.2" height="26.1" fill="none" stroke="#d5d5d5" stroke-width="1"/>
<path d="M30.6,219.2 35.0,218.7 39.4,218.6 42.5,220.2 44.6,222.1 48.6,227.9 39.9,247.0 42.0,249.0 44.0,252.2 45.7,258.0 47.5,262.2 43.4,262.2 42.8,258.0 41.1,253.4 40.0,248.7 37.5,246.2 35.8,243.5 33.2,242.0 31.9,240.8 31.2,243.0 28.0,242.7 29.3,240.3 26.1,241.6 21.3,243.6 16.4,244.1 12.6,244.9 10.8,244.0 12.6,243.3 16.4,242.3 20.6,241.0 19.7,239.8 17.7,237.2 18.4,235.3 18.0,233.4 19.0,231.5 19.7,229.5 25.5,228.9 26.7,228.9 25.5,226.9 24.5,224.4 25.5,222.1 28.7,223.1 30.0,224.7Z" fill="#FEC1B3"/>
<path d="M2.0,241.3 L3.8,242.1" stroke="#FEC1B3" stroke-width="1" stroke-linecap="round"/>
<path d="M5.0,242.4 L7.0,243.2" stroke="#FEC1B3" stroke-width="1" stroke-linecap="round"/>
<path d="M8.0,243.4 L10.0,244.0" stroke="#FEC1B3" stroke-width="1" stroke-linecap="round"/>
<ellipse cx="19" cy="224" rx=".7" ry="1.5" fill="#FEC1B3" transform="rotate(-20 19 224)"/><ellipse cx="16.1" cy="231.9" rx=".9" ry=".8" fill="#FEC1B3"/>
<circle cx="57.5" cy="242.6" r="0.45" fill="#FEC1B3"/>
<circle cx="60.2" cy="241.9" r="0.9" fill="#FEC1B3"/>
<circle cx="66.4" cy="246.4" r="1.1" fill="#FEC1B3"/>
<circle cx="70.2" cy="248.8" r="1.0" fill="#FEC1B3"/>
<circle cx="72.9" cy="250.8" r="1.2" fill="#FEC1B3"/>
<path d="M76.2,254.3 L78.2,255.6 L79.9,258.2 L77.8,259.6 L75.6,260.2 L75.2,257.5 Z" fill="#FEC1B3"/>
<circle cx="41.3" cy="178.2" r="11.6" fill="#fff" fill-opacity=".7" stroke="#6e6e6e" stroke-opacity=".45" stroke-width=".8"/>
<text x="41.4" y="182.6" text-anchor="middle" font-size="10" letter-spacing="-.1" stroke="#000" stroke-width=".22">-4.1</text>
<circle cx="120" cy="156" r="11.6" fill="#fff" fill-opacity=".7" stroke="#6e6e6e" stroke-opacity=".45" stroke-width=".8"/>
<text x="120.1" y="160.4" text-anchor="middle" font-size="10" letter-spacing="-.1" stroke="#000" stroke-width=".22">59.1</text>
<circle cx="164.8" cy="199.4" r="11.6" fill="#fff" fill-opacity=".7" stroke="#6e6e6e" stroke-opacity=".45" stroke-width=".8"/>
<text x="164.9" y="203.8" text-anchor="middle" font-size="10" letter-spacing="-.1" stroke="#000" stroke-width=".22">21.0</text>
<circle cx="198.4" cy="136.7" r="12.7" fill="#fff" stroke="#8c8c8c" stroke-opacity=".5" stroke-width=".6"/>
<circle cx="198.4" cy="136.7" r="11.7" fill="#e2f1e4"/>
<text x="198.5" y="141.1" text-anchor="middle" font-size="10" letter-spacing="-.1" stroke="#000" stroke-width=".22">8.8</text>
<text x="153.0" y="117.9" font-size="10.2" stroke="#000" stroke-width=".32" letter-spacing="0">Northeast</text>
<text x="135.0" y="130.8" font-size="10.2" stroke="#000" stroke-width=".32" letter-spacing="0">Midwest</text>
<text x="0.4" y="210.70000000000002" font-size="10.2" stroke="#000" stroke-width=".32" letter-spacing="-0.6">West</text>
<text x="155.1" y="239.0" font-size="10.2" stroke="#000" stroke-width=".32" letter-spacing="0">South</text></g>
<g transform="translate(442,0)"><path d="M13.3,125.2 15.4,126.8 18.4,127.6 19.6,127.9 18.5,130.6 18.0,132.8 19.8,132.1 20.7,129.2 20.8,126.1 20.4,123.4 22.1,123.7 23.8,124.0 25.6,124.3 27.3,124.6 29.0,124.9 30.8,125.2 32.5,125.4 34.2,125.7 35.9,125.9 37.7,126.1 39.4,126.3 41.1,126.5 42.8,126.7 44.5,126.9 46.2,127.1 47.8,127.2 49.5,127.4 51.2,127.5 52.9,127.7 54.6,127.8 56.3,127.9 58.0,128.0 59.7,128.1 61.4,128.2 63.0,128.3 64.9,128.4 66.7,128.4 68.5,128.5 70.3,128.5 72.2,128.6 74.0,128.6 75.8,128.6 77.6,128.6 79.4,128.6 81.3,128.6 83.1,128.5 83.1,131.1 83.2,133.7 83.2,136.3 83.3,139.0 83.3,141.6 83.4,144.2 83.5,147.2 83.5,150.3 83.6,153.3 83.6,156.3 83.7,159.4 83.8,161.9 83.8,164.5 83.9,167.1 83.9,169.7 85.8,169.6 87.7,169.6 89.6,169.5 91.5,169.5 91.7,172.0 91.8,174.6 91.9,177.2 92.0,179.8 92.1,182.4 92.2,185.0 92.3,187.6 92.4,190.1 88.6,190.3 88.5,192.9 88.6,195.4 88.6,198.0 88.7,200.6 88.8,203.2 88.8,205.8 88.9,208.3 89.0,210.9 89.1,213.5 89.1,216.1 86.9,216.1 84.7,216.2 82.5,216.2 80.3,216.2 78.1,216.2 75.9,216.2 73.7,216.2 74.1,217.4 71.7,217.3 69.3,217.3 66.8,217.2 66.8,219.6 64.3,219.5 61.8,219.4 59.3,219.3 56.8,219.2 54.3,219.0 52.1,218.1 49.8,217.1 47.6,216.1 45.3,215.0 43.1,214.0 40.9,212.9 38.7,211.9 39.2,210.7 36.6,210.7 34.0,210.7 31.4,210.7 28.8,210.6 28.5,208.6 27.8,205.9 25.5,203.8 24.2,203.7 24.0,202.2 21.2,201.2 19.7,199.6 16.1,198.8 15.8,196.4 15.4,193.7 13.8,191.9 11.9,188.4 12.0,186.9 12.8,185.7 10.7,183.5 10.9,180.4 9.1,179.0 7.3,173.9 7.8,169.2 6.2,165.5 7.9,162.9 8.2,160.3 8.5,157.8 8.0,153.3 10.6,149.2 11.5,146.0 12.4,142.8 13.0,139.7 13.6,136.7 13.8,133.1 13.4,130.1 12.9,127.2Z" fill="#A0CFA5"/>
<path d="M13.5,136.4 16.2,137.5 17.1,140.3 19.0,140.6 20.8,140.9 22.7,141.2 24.7,141.1 26.6,140.9 28.5,140.8 30.7,140.7 32.5,140.9 34.3,141.2 36.2,141.4 38.0,141.6 M38.0,141.6 37.8,139.5 38.1,136.9 38.5,134.2 38.8,131.6 39.1,129.0 39.4,126.3 M38.0,141.6 39.2,144.4 37.7,147.3 35.9,150.2 36.2,152.8 35.9,155.9 35.5,159.0 35.1,162.1 M8.5,157.8 10.4,158.2 12.3,158.5 14.2,158.9 16.1,159.2 18.0,159.5 19.9,159.9 21.8,160.2 23.7,160.5 25.6,160.8 27.5,161.1 29.4,161.3 31.3,161.6 33.2,161.8 35.1,162.1 37.1,162.3 39.2,162.5 41.2,162.8 43.2,163.0 45.3,163.1 47.3,163.3 49.3,163.5 51.4,163.7 53.4,163.8 55.5,163.9 57.5,164.1 M24.0,160.5 23.7,163.1 23.3,165.7 22.9,168.2 22.5,170.8 22.1,173.3 21.7,175.9 23.5,178.2 25.3,180.6 27.1,182.9 29.0,185.3 30.8,187.6 32.8,189.9 34.7,192.2 36.7,194.5 38.6,196.8 40.7,199.1 M46.3,163.2 46.0,165.8 45.8,168.4 45.6,171.0 45.3,173.5 45.1,176.1 44.9,178.7 44.7,181.3 44.4,183.9 44.2,186.4 44.0,189.0 43.6,193.1 40.9,193.7 40.8,196.4 40.7,199.1 41.0,203.3 40.1,207.0 39.2,210.7 M42.7,126.7 42.4,129.3 42.2,131.9 43.0,135.0 44.7,137.1 46.5,139.2 46.5,142.2 46.6,145.1 48.4,144.8 49.8,147.7 51.2,150.7 53.7,150.6 56.0,150.9 58.2,151.2 M58.4,148.6 58.2,151.2 58.1,153.7 57.9,156.3 57.8,158.9 57.6,161.5 57.5,164.1 57.4,166.6 57.2,169.2 59.1,169.3 61.0,169.4 62.9,169.5 64.8,169.6 M58.4,148.6 60.2,148.7 62.0,148.8 63.7,148.8 65.5,148.9 67.3,149.0 69.1,149.0 70.9,149.0 72.7,149.1 74.5,149.1 76.3,149.1 78.1,149.1 79.9,149.1 81.7,149.1 83.5,149.0 M64.8,169.6 66.7,169.6 68.7,169.7 70.6,169.7 72.5,169.7 74.4,169.8 76.3,169.8 78.2,169.8 80.1,169.7 82.0,169.7 83.9,169.7 85.8,169.6 87.7,169.6 89.6,169.5 91.5,169.5 M64.8,169.6 64.7,172.2 64.7,174.8 64.6,177.5 64.5,180.1 64.4,182.7 64.3,185.4 64.2,188.0 64.1,190.6 64.0,193.2 63.9,195.9 63.8,198.5 63.8,201.1 63.7,203.7 63.6,206.4 63.5,209.0 63.4,211.6 63.3,214.2 63.2,216.8 63.1,219.4 M44.0,189.0 46.0,189.2 48.0,189.3 50.0,189.5 52.1,189.6 54.1,189.8 56.1,189.9 58.1,190.0 60.2,190.1 62.2,190.2 64.2,190.2 66.3,190.3 68.3,190.4 70.3,190.4 72.3,190.4 74.4,190.5 76.4,190.5 78.4,190.5 80.5,190.4 82.5,190.4 84.5,190.4 86.5,190.3 88.6,190.3" fill="none" stroke="#fff" stroke-opacity=".38" stroke-width=".5"/>
<path d="M85.9,126.5 87.7,126.5 89.4,126.4 91.2,126.4 92.9,126.3 94.7,126.2 96.5,126.1 98.2,126.0 100.0,125.9 101.8,125.8 103.5,125.6 105.3,125.4 107.0,125.2 108.8,125.0 110.5,124.8 112.3,124.6 114.0,124.4 115.8,124.1 117.1,125.0 117.8,125.4 119.7,125.5 121.6,125.6 124.7,125.6 126.7,126.3 128.7,126.9 130.7,126.4 132.7,125.9 134.0,126.3 131.5,129.0 129.6,131.4 127.7,133.9 129.5,133.1 131.4,132.4 133.7,133.5 136.2,133.8 138.8,134.1 140.7,134.5 142.6,134.8 144.4,137.0 144.9,139.1 143.9,141.9 145.5,140.5 146.8,137.8 146.2,141.2 145.6,144.7 145.8,147.3 145.9,149.9 146.8,152.3 148.2,155.4 149.1,156.4 150.5,155.7 151.8,154.3 152.6,151.0 152.1,148.4 150.3,145.7 150.6,141.9 150.7,138.7 152.1,136.8 153.5,134.9 154.2,133.2 157.0,134.2 159.6,135.7 160.9,139.3 159.6,143.1 161.0,141.1 163.0,140.0 164.3,142.5 165.6,144.9 165.9,147.0 164.7,148.4 164.4,150.3 163.6,152.4 166.7,152.9 168.5,152.2 170.3,151.6 172.1,149.8 173.9,147.9 174.9,151.3 175.8,155.0 175.3,155.4 176.3,158.1 175.8,160.6 173.7,163.8 172.3,167.8 171.0,169.1 169.0,167.9 166.5,169.0 162.9,167.5 161.6,167.8 161.4,169.7 159.9,171.4 159.0,172.8 157.6,174.6 155.3,175.6 152.4,176.0 150.5,177.1 150.7,178.7 149.7,181.0 146.9,182.1 147.2,184.1 145.8,184.9 145.5,186.3 145.6,187.6 143.0,188.0 143.4,185.3 141.2,185.7 139.0,186.1 136.7,186.5 134.5,186.8 132.2,187.1 130.0,187.5 127.7,187.8 125.5,188.1 125.1,185.5 123.0,185.8 120.9,186.0 118.7,186.3 116.6,186.5 114.5,186.7 112.3,186.9 110.2,187.1 108.1,187.3 105.9,187.5 103.8,187.6 101.6,187.8 99.5,187.9 97.4,188.0 95.2,188.1 95.1,185.5 95.0,183.0 94.9,180.4 94.8,177.8 94.7,175.2 94.6,172.6 94.5,170.0 94.4,167.4 92.4,167.5 90.5,167.6 88.6,167.6 86.7,167.7 86.7,165.1 86.6,162.5 86.6,159.9 86.5,157.3 86.5,154.8 86.4,152.2 86.4,149.6 86.3,147.0 86.3,144.5 86.2,141.9 86.2,139.3 86.1,136.7 86.0,134.2 86.0,131.6 85.9,129.1Z" fill="#FEC1B3"/>
<path d="M86.2,142.2 88.1,142.1 90.0,142.1 91.9,142.0 93.8,141.9 95.7,141.9 97.6,141.8 99.5,141.7 101.3,141.5 103.2,141.3 105.1,141.1 107.0,140.9 108.9,140.7 110.8,140.5 112.7,140.3 M108.8,125.0 109.8,128.5 110.8,132.0 111.4,134.7 112.0,137.5 112.7,140.3 113.0,143.6 113.4,146.6 113.9,149.7 114.3,152.7 M86.5,157.3 88.4,157.3 90.3,157.2 92.1,157.2 94.0,157.1 95.9,157.0 97.7,156.9 99.6,156.8 101.4,156.7 103.3,156.5 105.2,156.3 107.0,156.1 109.5,156.3 111.9,156.4 114.9,157.8 M114.3,152.7 114.2,156.9 114.9,157.8 M114.3,152.7 116.3,152.5 118.2,152.2 120.1,151.9 122.0,151.7 123.9,151.4 125.8,151.1 127.7,150.8 129.7,150.4 131.6,150.1 133.5,149.8 M133.5,149.8 132.8,147.8 130.7,146.6 128.7,145.4 126.7,144.4 126.3,140.1 127.5,137.3 127.0,134.2 M94.6,172.6 96.6,172.5 98.6,172.4 100.6,172.3 102.6,172.2 104.6,172.0 106.6,171.8 108.6,171.7 110.6,171.5 112.6,171.3 114.6,171.0 116.6,170.8 118.6,170.6 120.6,170.3 M114.9,157.8 116.8,160.2 117.4,162.7 117.9,165.3 118.9,167.3 120.6,170.3 122.5,172.8 123.9,174.7 124.2,177.4 124.5,180.1 124.8,182.8 125.1,185.5 M118.5,167.4 120.4,167.1 122.4,166.9 124.3,166.6 126.2,166.3 128.2,166.0 130.1,165.7 132.0,165.4 134.0,165.1 135.3,166.0 M133.5,149.8 134.6,153.5 136.3,154.5 138.8,157.7 137.7,159.4 135.9,162.5 135.3,166.0 135.2,168.2 137.9,171.6 141.2,173.6 141.5,175.2 144.4,177.8 145.3,180.8 146.9,182.1 M136.3,154.5 138.4,154.1 140.5,153.6 142.6,153.2 144.7,152.8 146.8,152.3 M148.6,156.1 149.2,159.2 149.8,162.4 150.4,165.6 151.0,168.8 151.3,171.7 151.1,174.4 150.9,177.0 M149.8,155.8 152.0,155.3 154.2,154.8 156.4,154.3 158.7,153.7 M158.6,153.7 159.2,156.5 159.8,159.3 160.4,162.2 161.0,165.0 161.6,167.8 M158.7,153.7 161.1,153.0 163.6,152.3" fill="none" stroke="#fff" stroke-opacity=".38" stroke-width=".5"/>
<path d="M90.5,193.0 92.7,192.9 94.8,192.8 96.9,192.7 99.0,192.6 101.1,192.5 103.2,192.3 105.3,192.2 107.4,192.0 109.6,191.9 111.7,191.7 113.8,191.5 115.9,191.3 118.0,191.1 120.1,190.9 122.2,190.6 124.3,190.4 124.6,192.9 126.9,192.6 129.1,192.3 131.4,192.0 133.6,191.7 135.9,191.4 138.1,191.0 140.4,190.6 142.6,190.3 142.2,193.0 144.7,192.5 144.6,191.2 145.0,189.8 146.3,189.1 146.1,187.0 148.8,186.0 149.8,183.7 149.7,182.1 151.5,181.0 154.5,180.6 156.7,179.6 158.2,177.9 159.1,176.4 160.5,174.8 160.8,172.9 162.0,172.6 165.6,174.1 168.2,173.0 170.1,174.2 171.4,172.9 172.8,168.9 175.0,166.0 175.4,163.7 174.5,161.3 175.0,161.0 176.3,165.5 178.2,165.0 180.1,164.4 182.1,163.8 184.1,163.2 186.0,162.6 188.0,162.0 189.9,161.4 191.9,160.7 193.8,160.1 195.1,159.2 194.9,160.4 196.0,161.7 198.1,163.6 198.6,165.3 198.7,166.9 197.3,168.6 195.8,171.5 196.0,169.1 195.4,166.8 194.0,163.9 193.0,161.6 193.0,163.8 194.1,167.3 194.7,169.5 194.6,172.5 196.1,174.0 197.4,177.3 200.2,181.6 198.7,183.6 197.2,185.6 195.3,188.5 194.6,191.3 193.2,192.7 191.5,194.1 190.0,196.6 188.5,199.2 187.1,201.8 185.5,204.3 184.8,208.3 185.4,212.9 186.5,215.7 188.4,218.4 190.7,221.2 192.2,223.9 193.7,226.6 195.2,229.3 195.9,232.3 196.7,235.3 196.2,238.9 193.1,240.1 190.3,236.7 188.5,233.2 184.2,229.1 182.4,225.4 182.1,222.2 179.9,220.7 176.4,217.9 173.6,217.7 171.1,220.4 169.3,220.6 164.6,218.0 162.1,218.8 159.5,219.5 157.0,220.3 153.4,220.2 150.5,221.8 151.7,223.1 153.1,226.0 152.5,227.7 149.3,227.7 145.7,227.8 141.5,226.9 138.3,227.1 135.4,227.2 132.5,227.2 128.8,229.5 125.5,232.7 121.7,235.1 118.4,239.0 117.9,242.6 118.6,245.1 119.3,247.6 119.5,247.8 116.8,247.7 114.1,247.5 110.3,246.1 109.2,243.5 108.1,240.9 104.2,237.6 102.7,234.6 101.1,231.6 97.9,230.0 94.4,229.9 92.7,233.0 90.9,234.2 87.3,232.7 85.1,230.7 83.0,226.1 78.8,222.5 76.1,220.1 75.7,218.9 77.9,218.9 80.1,218.9 82.3,218.9 84.5,218.9 86.7,218.9 88.9,218.8 91.1,218.7 91.0,216.2 91.0,213.6 90.9,211.0 90.8,208.5 90.7,205.9 90.7,203.3 90.6,200.7 90.5,198.1 90.5,195.6Z" fill="#A0CFA5"/>
<path d="M90.5,195.6 92.5,195.5 94.6,195.4 96.6,195.3 98.7,195.2 100.8,195.1 102.8,195.0 103.0,198.3 103.2,201.6 103.5,205.0 105.8,206.0 108.2,207.0 111.2,207.4 114.2,207.8 116.3,207.7 118.4,207.6 120.5,207.2 122.6,206.7 124.8,207.1 127.0,207.5 M124.6,192.9 125.3,195.7 126.0,198.5 126.3,201.5 126.7,204.5 127.0,207.5 128.9,207.7 129.3,210.5 M129.3,210.5 131.7,210.2 134.1,209.9 136.5,209.5 139.0,209.2 141.4,208.8 M129.3,210.5 129.6,213.2 130.0,215.9 132.5,220.5 132.3,224.1 132.3,227.2 M144.7,192.5 144.0,197.4 143.4,198.5 141.3,203.6 141.3,206.2 141.4,208.8 141.8,212.3 140.8,216.7 141.0,219.2 143.7,218.8 146.5,218.3 149.2,217.9 150.5,221.8 M143.3,198.0 145.4,197.6 147.4,197.3 149.4,196.9 151.5,196.5 153.5,196.1 155.6,195.7 157.6,195.3 159.6,194.8 161.6,194.4 163.7,193.9 165.7,193.5 167.7,193.0 170.1,192.4 172.6,191.8 M145.0,189.8 148.0,189.3 150.9,188.7 150.7,187.8 152.9,187.4 155.1,187.0 157.3,186.6 159.5,186.2 161.7,185.8 163.9,185.3 166.1,184.8 168.3,184.4 170.9,183.7 173.5,183.1 176.1,182.4 M151.9,196.4 152.2,199.1 152.5,201.7 152.9,204.4 153.2,207.0 153.5,209.7 153.8,212.3 154.4,214.8 155.0,217.3 155.5,219.8 M162.5,194.2 163.6,196.8 164.7,199.4 165.8,202.0 166.9,204.6 168.0,207.2 168.8,210.5 169.5,213.7 167.3,214.2 165.1,214.7 162.9,215.2 160.6,215.7 158.4,216.1 159.9,219.0 M169.5,213.7 170.5,215.1 172.9,214.6 175.4,214.1 177.9,213.6 180.3,213.1 182.8,212.5 185.0,211.4 M172.6,191.8 175.0,193.8 177.5,195.9 181.6,199.6 183.5,201.8 185.5,204.1 M167.7,193.0 170.3,189.5 172.1,188.2 173.9,186.9 175.7,185.7 176.1,182.4 M172.6,191.8 175.5,190.0 178.0,189.4 180.6,188.9 182.1,190.3 184.3,189.7 186.5,189.1 189.5,190.7 192.5,192.4 M176.2,182.6 178.3,182.0 180.3,181.4 182.4,180.9 184.4,180.3 186.5,179.6 188.6,179.0 189.9,178.4 191.1,177.7 192.5,177.1 194.5,176.4 196.6,175.7 M168.3,184.4 170.5,181.9 172.8,179.5 173.7,177.9 170.4,175.3 170.1,174.2 M173.7,177.9 177.1,178.6 180.2,176.4 182.0,171.0 183.9,167.7 184.8,164.5 187.2,164.4 190.3,165.7 190.8,166.1 192.2,168.9 194.8,168.2 M180.1,164.4 180.9,167.0 182.9,164.3 184.9,163.1 187.2,164.4 M193.8,160.1 195.0,163.1 196.3,165.9 198.7,165.1" fill="none" stroke="#fff" stroke-opacity=".38" stroke-width=".5"/>
<path d="M176.9,150.8 179.3,148.6 181.4,144.5 180.3,142.9 182.1,142.1 183.9,141.3 185.5,141.4 187.1,140.5 188.7,139.5 189.9,138.3 188.5,135.3 189.9,133.7 189.9,130.1 190.8,129.5 192.6,128.8 194.4,128.2 196.2,127.5 198.0,126.8 199.8,126.1 201.4,125.4 201.5,123.2 201.7,122.1 201.8,118.5 201.1,114.6 202.2,109.9 205.3,109.2 207.5,109.9 208.9,113.1 210.3,116.3 211.6,116.2 212.7,118.3 214.8,119.3 213.4,121.6 210.9,123.9 209.6,125.5 207.9,128.3 207.4,129.9 208.1,133.3 208.0,134.8 209.1,135.5 208.4,137.8 210.4,138.1 212.3,137.6 211.8,136.1 212.6,138.0 210.5,139.4 209.6,141.7 207.3,143.6 205.5,144.5 203.7,145.4 201.6,147.5 200.7,149.5 201.2,150.7 202.0,152.9 201.7,155.8 200.5,159.3 199.4,157.9 198.6,156.8 198.4,155.7 197.7,156.6 195.7,157.2 193.8,157.9 191.9,158.5 189.9,159.1 188.0,159.7 186.0,160.3 184.0,160.9 182.1,161.5 180.1,162.1 179.3,159.2 178.5,156.4 177.7,153.6Z" fill="#FEC1B3"/>
<path d="M179.6,149.9 181.6,149.3 183.6,148.7 185.6,148.1 187.6,147.5 189.6,146.9 191.5,146.2 193.5,145.6 194.7,144.9 195.2,145.6 197.1,147.3 M197.1,147.3 200.2,148.1 200.7,149.5 M197.1,147.3 196.7,150.0 197.2,151.5 199.1,152.9 198.3,154.6 198.4,155.7 M195.4,127.8 196.6,131.2 197.9,134.6 199.7,138.6 200.1,142.3 201.8,146.9 201.4,147.6 M202.2,137.8 201.3,133.9 201.0,129.5 201.4,125.4 M199.8,138.7 202.0,137.8 204.3,137.0 206.5,136.1 207.7,135.0 M201.5,123.2 202.5,125.5 203.5,127.8 204.7,130.3 206.2,132.8 207.8,133.5 M200.1,142.4 202.1,141.7 204.1,140.9 206.1,140.2 207.6,139.6 207.8,140.2 209.5,141.8 M206.1,140.2 207.5,143.7" fill="none" stroke="#fff" stroke-opacity=".38" stroke-width=".5"/><rect x="1.4" y="217.5" width="50.1" height="46.1" fill="none" stroke="#d5d5d5" stroke-width="1"/>
<rect x="54.4" y="237.4" width="30.2" height="26.1" fill="none" stroke="#d5d5d5" stroke-width="1"/>
<path d="M30.6,219.2 35.0,218.7 39.4,218.6 42.5,220.2 44.6,222.1 48.6,227.9 39.9,247.0 42.0,249.0 44.0,252.2 45.7,258.0 47.5,262.2 43.4,262.2 42.8,258.0 41.1,253.4 40.0,248.7 37.5,246.2 35.8,243.5 33.2,242.0 31.9,240.8 31.2,243.0 28.0,242.7 29.3,240.3 26.1,241.6 21.3,243.6 16.4,244.1 12.6,244.9 10.8,244.0 12.6,243.3 16.4,242.3 20.6,241.0 19.7,239.8 17.7,237.2 18.4,235.3 18.0,233.4 19.0,231.5 19.7,229.5 25.5,228.9 26.7,228.9 25.5,226.9 24.5,224.4 25.5,222.1 28.7,223.1 30.0,224.7Z" fill="#A0CFA5"/>
<path d="M2.0,241.3 L3.8,242.1" stroke="#A0CFA5" stroke-width="1" stroke-linecap="round"/>
<path d="M5.0,242.4 L7.0,243.2" stroke="#A0CFA5" stroke-width="1" stroke-linecap="round"/>
<path d="M8.0,243.4 L10.0,244.0" stroke="#A0CFA5" stroke-width="1" stroke-linecap="round"/>
<ellipse cx="19" cy="224" rx=".7" ry="1.5" fill="#A0CFA5" transform="rotate(-20 19 224)"/><ellipse cx="16.1" cy="231.9" rx=".9" ry=".8" fill="#A0CFA5"/>
<circle cx="57.5" cy="242.6" r="0.45" fill="#A0CFA5"/>
<circle cx="60.2" cy="241.9" r="0.9" fill="#A0CFA5"/>
<circle cx="66.4" cy="246.4" r="1.1" fill="#A0CFA5"/>
<circle cx="70.2" cy="248.8" r="1.0" fill="#A0CFA5"/>
<circle cx="72.9" cy="250.8" r="1.2" fill="#A0CFA5"/>
<path d="M76.2,254.3 L78.2,255.6 L79.9,258.2 L77.8,259.6 L75.6,260.2 L75.2,257.5 Z" fill="#A0CFA5"/>
<circle cx="41.3" cy="178.2" r="11.6" fill="#fff" fill-opacity=".7" stroke="#6e6e6e" stroke-opacity=".45" stroke-width=".8"/>
<text x="41.4" y="182.6" text-anchor="middle" font-size="10" letter-spacing="-.1" stroke="#000" stroke-width=".22">2.6</text>
<circle cx="120" cy="156" r="11.6" fill="#fff" fill-opacity=".7" stroke="#6e6e6e" stroke-opacity=".45" stroke-width=".8"/>
<text x="120.1" y="160.4" text-anchor="middle" font-size="10" letter-spacing="-.1" stroke="#000" stroke-width=".22">-2.9</text>
<circle cx="164.8" cy="199.4" r="11.6" fill="#fff" fill-opacity=".7" stroke="#6e6e6e" stroke-opacity=".45" stroke-width=".8"/>
<text x="164.9" y="203.8" text-anchor="middle" font-size="10" letter-spacing="-.1" stroke="#000" stroke-width=".22">1.5</text>
<circle cx="198.4" cy="136.7" r="12.7" fill="#fff" stroke="#8c8c8c" stroke-opacity=".5" stroke-width=".6"/>
<circle cx="198.4" cy="136.7" r="11.7" fill="#ffece8"/>
<text x="198.5" y="141.1" text-anchor="middle" font-size="10" letter-spacing="-.1" stroke="#000" stroke-width=".22">-2.0</text>
<text x="153.0" y="117.9" font-size="10.2" stroke="#000" stroke-width=".32" letter-spacing="0">Northeast</text>
<text x="135.0" y="130.8" font-size="10.2" stroke="#000" stroke-width=".32" letter-spacing="0">Midwest</text>
<text x="0.4" y="210.70000000000002" font-size="10.2" stroke="#000" stroke-width=".32" letter-spacing="-0.6">West</text>
<text x="155.1" y="239.0" font-size="10.2" stroke="#000" stroke-width=".32" letter-spacing="0">South</text></g>
</svg>
<div class="t b ti" style="top:12.83px;font-size:17.8px;line-height:17.8px;font-weight:700;left:30.50px;width:600px;text-align:center;">Month-over-month change, by region</div>
<div class="t" style="top:31.07px;font-size:14.8px;line-height:14.8px;letter-spacing:0.25px;left:31.00px;width:600px;text-align:center;">May 2023 (preliminary)</div>
<div class="t b" style="top:60.21px;font-size:11.8px;line-height:11.8px;font-weight:700;left:110.50px;">1-month change (%):</div>
<div class="sw" style="left:242px;top:59px;width:10px;height:11px;background:#FEC1B3"></div>
<div class="t" style="top:60.21px;font-size:11.8px;line-height:11.8px;left:254.30px;">-0.1 to -10.0</div>
<div class="sw" style="left:334.4px;top:59px;width:10px;height:11px;background:#A0CFA5"></div>
<div class="t" style="top:60.21px;font-size:11.8px;line-height:11.8px;left:346.70px;">0.1 to 10.0</div>
<div class="sw" style="left:417.5px;top:59px;width:10px;height:11px;background:#3E9C4E"></div>
<div class="t" style="top:60.21px;font-size:11.8px;line-height:11.8px;left:429.80px;">10.1 to 20.0</div>
<div class="sw" style="left:507.7px;top:59px;width:10px;height:11px;background:#1A742C"></div>
<div class="t" style="top:60.21px;font-size:11.8px;line-height:11.8px;left:520.00px;">20.1 +</div>
<div class="t" style="top:86.80px;font-size:15px;line-height:15px;letter-spacing:0.1px;left:3.00px;">New home sales</div>
<div class="t b" style="top:287.80px;font-size:11.7px;line-height:11.7px;font-weight:700;left:-199.70px;width:300px;text-align:right;">Thousands</div>
<div class="t b" style="top:301.70px;font-size:11.7px;line-height:11.7px;font-weight:700;left:-199.70px;width:300px;text-align:right;">of units</div>
<div class="t b" style="top:273.10px;font-size:11.7px;line-height:11.7px;font-weight:700;left:-142.50px;width:300px;text-align:right;">1-month</div>
<div class="t b" style="top:287.70px;font-size:11.7px;line-height:11.7px;font-weight:700;left:-142.50px;width:300px;text-align:right;">change</div>
<div class="t b" style="top:301.70px;font-size:11.7px;line-height:11.7px;font-weight:700;left:-142.50px;width:300px;text-align:right;">(%)</div>
<div class="t b" style="top:273.10px;font-size:11.7px;line-height:11.7px;font-weight:700;left:-84.80px;width:300px;text-align:right;">12-month</div>
<div class="t b" style="top:287.70px;font-size:11.7px;line-height:11.7px;font-weight:700;left:-84.80px;width:300px;text-align:right;">change</div>
<div class="t b" style="top:301.70px;font-size:11.7px;line-height:11.7px;font-weight:700;left:-84.80px;width:300px;text-align:right;">(%)</div>
<div class="ln" style="left:0px;top:316px;width:218px;height:2px;background:#b8b8b8"></div>
<div class="t" style="top:320.74px;font-size:12px;line-height:12px;letter-spacing:0.45px;left:1.50px;">US</div>
<div class="t" style="top:320.74px;font-size:12px;line-height:12px;letter-spacing:0.3px;left:-199.70px;width:300px;text-align:right;margin-right:-0.3px;">763</div>
<div class="t" style="top:320.74px;font-size:12px;line-height:12px;letter-spacing:0.3px;left:-142.50px;width:300px;text-align:right;margin-right:-0.3px;">12.2</div>
<div class="t" style="top:320.74px;font-size:12px;line-height:12px;letter-spacing:0.3px;left:-84.80px;width:300px;text-align:right;margin-right:-0.3px;">20.0</div>
<div class="ln" style="left:0px;top:336px;width:218px;height:1px;background:#d8d8d8"></div>
<div class="t" style="top:339.99px;font-size:12px;line-height:12px;letter-spacing:0.45px;left:1.50px;">Northeast</div>
<div class="t" style="top:339.99px;font-size:12px;line-height:12px;letter-spacing:0.3px;left:-199.70px;width:300px;text-align:right;margin-right:-0.3px;">40</div>
<div class="t" style="top:339.99px;font-size:12px;line-height:12px;letter-spacing:0.3px;left:-142.50px;width:300px;text-align:right;margin-right:-0.3px;">17.6</div>
<div class="t" style="top:339.99px;font-size:12px;line-height:12px;letter-spacing:0.3px;left:-84.80px;width:300px;text-align:right;margin-right:-0.3px;">110.5</div>
<div class="ln" style="left:0px;top:355px;width:218px;height:1px;background:#d8d8d8"></div>
<div class="t" style="top:359.24px;font-size:12px;line-height:12px;letter-spacing:0.45px;left:1.50px;">Midwest</div>
<div class="t" style="top:359.24px;font-size:12px;line-height:12px;letter-spacing:0.3px;left:-199.70px;width:300px;text-align:right;margin-right:-0.3px;">77</div>
<div class="t" style="top:359.24px;font-size:12px;line-height:12px;letter-spacing:0.3px;left:-142.50px;width:300px;text-align:right;margin-right:-0.3px;">4.1</div>
<div class="t" style="top:359.24px;font-size:12px;line-height:12px;letter-spacing:0.3px;left:-84.80px;width:300px;text-align:right;margin-right:-0.3px;">40.0</div>
<div class="ln" style="left:0px;top:374px;width:218px;height:1px;background:#d8d8d8"></div>
<div class="t" style="top:378.49px;font-size:12px;line-height:12px;letter-spacing:0.45px;left:1.50px;">South</div>
<div class="t" style="top:378.49px;font-size:12px;line-height:12px;letter-spacing:0.3px;left:-199.70px;width:300px;text-align:right;margin-right:-0.3px;">471</div>
<div class="t" style="top:378.49px;font-size:12px;line-height:12px;letter-spacing:0.3px;left:-142.50px;width:300px;text-align:right;margin-right:-0.3px;">11.3</div>
<div class="t" style="top:378.49px;font-size:12px;line-height:12px;letter-spacing:0.3px;left:-84.80px;width:300px;text-align:right;margin-right:-0.3px;">22.0</div>
<div class="ln" style="left:0px;top:393px;width:218px;height:1px;background:#d8d8d8"></div>
<div class="t" style="top:397.74px;font-size:12px;line-height:12px;letter-spacing:0.45px;left:1.50px;">West</div>
<div class="t" style="top:397.74px;font-size:12px;line-height:12px;letter-spacing:0.3px;left:-199.70px;width:300px;text-align:right;margin-right:-0.3px;">175</div>
<div class="t" style="top:397.74px;font-size:12px;line-height:12px;letter-spacing:0.3px;left:-142.50px;width:300px;text-align:right;margin-right:-0.3px;">17.4</div>
<div class="t" style="top:397.74px;font-size:12px;line-height:12px;letter-spacing:0.3px;left:-84.80px;width:300px;text-align:right;margin-right:-0.3px;">-0.6</div>
<div class="ln" style="left:0px;top:412px;width:218px;height:1px;background:#7a7a7a"></div>
<div class="t" style="top:86.80px;font-size:15px;line-height:15px;letter-spacing:0.42px;left:224.00px;">Single-unit housing starts</div>
<div class="t b" style="top:287.80px;font-size:11.7px;line-height:11.7px;font-weight:700;left:22.30px;width:300px;text-align:right;">Thousands</div>
<div class="t b" style="top:301.70px;font-size:11.7px;line-height:11.7px;font-weight:700;left:22.30px;width:300px;text-align:right;">of units</div>
<div class="t b" style="top:273.10px;font-size:11.7px;line-height:11.7px;font-weight:700;left:79.50px;width:300px;text-align:right;">1-month</div>
<div class="t b" style="top:287.70px;font-size:11.7px;line-height:11.7px;font-weight:700;left:79.50px;width:300px;text-align:right;">change</div>
<div class="t b" style="top:301.70px;font-size:11.7px;line-height:11.7px;font-weight:700;left:79.50px;width:300px;text-align:right;">(%)</div>
<div class="t b" style="top:273.10px;font-size:11.7px;line-height:11.7px;font-weight:700;left:137.20px;width:300px;text-align:right;">12-month</div>
<div class="t b" style="top:287.70px;font-size:11.7px;line-height:11.7px;font-weight:700;left:137.20px;width:300px;text-align:right;">change</div>
<div class="t b" style="top:301.70px;font-size:11.7px;line-height:11.7px;font-weight:700;left:137.20px;width:300px;text-align:right;">(%)</div>
<div class="ln" style="left:222px;top:316px;width:218px;height:2px;background:#b8b8b8"></div>
<div class="t" style="top:320.74px;font-size:12px;line-height:12px;letter-spacing:0.45px;left:223.50px;">US</div>
<div class="t" style="top:320.74px;font-size:12px;line-height:12px;letter-spacing:0.3px;left:22.30px;width:300px;text-align:right;margin-right:-0.3px;">997</div>
<div class="t" style="top:320.74px;font-size:12px;line-height:12px;letter-spacing:0.3px;left:79.50px;width:300px;text-align:right;margin-right:-0.3px;">18.5</div>
<div class="t" style="top:320.74px;font-size:12px;line-height:12px;letter-spacing:0.3px;left:137.20px;width:300px;text-align:right;margin-right:-0.3px;">-6.6</div>
<div class="ln" style="left:222px;top:336px;width:218px;height:1px;background:#d8d8d8"></div>
<div class="t" style="top:339.99px;font-size:12px;line-height:12px;letter-spacing:0.45px;left:223.50px;">Northeast</div>
<div class="t" style="top:339.99px;font-size:12px;line-height:12px;letter-spacing:0.3px;left:22.30px;width:300px;text-align:right;margin-right:-0.3px;">62</div>
<div class="t" style="top:339.99px;font-size:12px;line-height:12px;letter-spacing:0.3px;left:79.50px;width:300px;text-align:right;margin-right:-0.3px;">8.8</div>
<div class="t" style="top:339.99px;font-size:12px;line-height:12px;letter-spacing:0.3px;left:137.20px;width:300px;text-align:right;margin-right:-0.3px;">12.7</div>
<div class="ln" style="left:222px;top:355px;width:218px;height:1px;background:#d8d8d8"></div>
<div class="t" style="top:359.24px;font-size:12px;line-height:12px;letter-spacing:0.45px;left:223.50px;">Midwest</div>
<div class="t" style="top:359.24px;font-size:12px;line-height:12px;letter-spacing:0.3px;left:22.30px;width:300px;text-align:right;margin-right:-0.3px;">148</div>
<div class="t" style="top:359.24px;font-size:12px;line-height:12px;letter-spacing:0.3px;left:79.50px;width:300px;text-align:right;margin-right:-0.3px;">59.1</div>
<div class="t" style="top:359.24px;font-size:12px;line-height:12px;letter-spacing:0.3px;left:137.20px;width:300px;text-align:right;margin-right:-0.3px;">5.7</div>
<div class="ln" style="left:222px;top:374px;width:218px;height:1px;background:#d8d8d8"></div>
<div class="t" style="top:378.49px;font-size:12px;line-height:12px;letter-spacing:0.45px;left:223.50px;">South</div>
<div class="t" style="top:378.49px;font-size:12px;line-height:12px;letter-spacing:0.3px;left:22.30px;width:300px;text-align:right;margin-right:-0.3px;">599</div>
<div class="t" style="top:378.49px;font-size:12px;line-height:12px;letter-spacing:0.3px;left:79.50px;width:300px;text-align:right;margin-right:-0.3px;">21.0</div>
<div class="t" style="top:378.49px;font-size:12px;line-height:12px;letter-spacing:0.3px;left:137.20px;width:300px;text-align:right;margin-right:-0.3px;">-3.9</div>
<div class="ln" style="left:222px;top:393px;width:218px;height:1px;background:#d8d8d8"></div>
<div class="t" style="top:397.74px;font-size:12px;line-height:12px;letter-spacing:0.45px;left:223.50px;">West</div>
<div class="t" style="top:397.74px;font-size:12px;line-height:12px;letter-spacing:0.3px;left:22.30px;width:300px;text-align:right;margin-right:-0.3px;">188</div>
<div class="t" style="top:397.74px;font-size:12px;line-height:12px;letter-spacing:0.3px;left:79.50px;width:300px;text-align:right;margin-right:-0.3px;">-4.1</div>
<div class="t" style="top:397.74px;font-size:12px;line-height:12px;letter-spacing:0.3px;left:137.20px;width:300px;text-align:right;margin-right:-0.3px;">-24.5</div>
<div class="ln" style="left:222px;top:412px;width:218px;height:1px;background:#7a7a7a"></div>
<div class="t" style="top:86.80px;font-size:15px;line-height:15px;letter-spacing:0.3px;left:445.40px;">Existing home sales</div>
<div class="t b" style="top:287.80px;font-size:11.7px;line-height:11.7px;font-weight:700;left:242.60px;width:300px;text-align:right;">Thousands</div>
<div class="t b" style="top:301.70px;font-size:11.7px;line-height:11.7px;font-weight:700;left:242.60px;width:300px;text-align:right;">of units</div>
<div class="t b" style="top:273.10px;font-size:11.7px;line-height:11.7px;font-weight:700;left:299.80px;width:300px;text-align:right;">1-month</div>
<div class="t b" style="top:287.70px;font-size:11.7px;line-height:11.7px;font-weight:700;left:299.80px;width:300px;text-align:right;">change</div>
<div class="t b" style="top:301.70px;font-size:11.7px;line-height:11.7px;font-weight:700;left:299.80px;width:300px;text-align:right;">(%)</div>
<div class="t b" style="top:273.10px;font-size:11.7px;line-height:11.7px;font-weight:700;left:357.50px;width:300px;text-align:right;">12-month</div>
<div class="t b" style="top:287.70px;font-size:11.7px;line-height:11.7px;font-weight:700;left:357.50px;width:300px;text-align:right;">change</div>
<div class="t b" style="top:301.70px;font-size:11.7px;line-height:11.7px;font-weight:700;left:357.50px;width:300px;text-align:right;">(%)</div>
<div class="ln" style="left:442.3px;top:316px;width:218px;height:2px;background:#b8b8b8"></div>
<div class="t" style="top:320.74px;font-size:12px;line-height:12px;letter-spacing:0.45px;left:443.80px;">US</div>
<div class="t" style="top:320.74px;font-size:12px;line-height:12px;letter-spacing:0.3px;left:242.60px;width:300px;text-align:right;margin-right:-0.3px;">4,300</div>
<div class="t" style="top:320.74px;font-size:12px;line-height:12px;letter-spacing:0.3px;left:299.80px;width:300px;text-align:right;margin-right:-0.3px;">0.2</div>
<div class="t" style="top:320.74px;font-size:12px;line-height:12px;letter-spacing:0.3px;left:357.50px;width:300px;text-align:right;margin-right:-0.3px;">-20.4</div>
<div class="ln" style="left:442.3px;top:336px;width:218px;height:1px;background:#d8d8d8"></div>
<div class="t" style="top:339.99px;font-size:12px;line-height:12px;letter-spacing:0.45px;left:443.80px;">Northeast</div>
<div class="t" style="top:339.99px;font-size:12px;line-height:12px;letter-spacing:0.3px;left:242.60px;width:300px;text-align:right;margin-right:-0.3px;">500</div>
<div class="t" style="top:339.99px;font-size:12px;line-height:12px;letter-spacing:0.3px;left:299.80px;width:300px;text-align:right;margin-right:-0.3px;">-2.0</div>
<div class="t" style="top:339.99px;font-size:12px;line-height:12px;letter-spacing:0.3px;left:357.50px;width:300px;text-align:right;margin-right:-0.3px;">-25.4</div>
<div class="ln" style="left:442.3px;top:355px;width:218px;height:1px;background:#d8d8d8"></div>
<div class="t" style="top:359.24px;font-size:12px;line-height:12px;letter-spacing:0.45px;left:443.80px;">Midwest</div>
<div class="t" style="top:359.24px;font-size:12px;line-height:12px;letter-spacing:0.3px;left:242.60px;width:300px;text-align:right;margin-right:-0.3px;">990</div>
<div class="t" style="top:359.24px;font-size:12px;line-height:12px;letter-spacing:0.3px;left:299.80px;width:300px;text-align:right;margin-right:-0.3px;">-2.9</div>
<div class="t" style="top:359.24px;font-size:12px;line-height:12px;letter-spacing:0.3px;left:357.50px;width:300px;text-align:right;margin-right:-0.3px;">-20.8</div>
<div class="ln" style="left:442.3px;top:374px;width:218px;height:1px;background:#d8d8d8"></div>
<div class="t" style="top:378.49px;font-size:12px;line-height:12px;letter-spacing:0.45px;left:443.80px;">South</div>
<div class="t" style="top:378.49px;font-size:12px;line-height:12px;letter-spacing:0.3px;left:242.60px;width:300px;text-align:right;margin-right:-0.3px;">2,020</div>
<div class="t" style="top:378.49px;font-size:12px;line-height:12px;letter-spacing:0.3px;left:299.80px;width:300px;text-align:right;margin-right:-0.3px;">1.5</div>
<div class="t" style="top:378.49px;font-size:12px;line-height:12px;letter-spacing:0.3px;left:357.50px;width:300px;text-align:right;margin-right:-0.3px;">-16.5</div>
<div class="ln" style="left:442.3px;top:393px;width:218px;height:1px;background:#d8d8d8"></div>
<div class="t" style="top:397.74px;font-size:12px;line-height:12px;letter-spacing:0.45px;left:443.80px;">West</div>
<div class="t" style="top:397.74px;font-size:12px;line-height:12px;letter-spacing:0.3px;left:242.60px;width:300px;text-align:right;margin-right:-0.3px;">790</div>
<div class="t" style="top:397.74px;font-size:12px;line-height:12px;letter-spacing:0.3px;left:299.80px;width:300px;text-align:right;margin-right:-0.3px;">2.6</div>
<div class="t" style="top:397.74px;font-size:12px;line-height:12px;letter-spacing:0.3px;left:357.50px;width:300px;text-align:right;margin-right:-0.3px;">-25.5</div>
<div class="ln" style="left:442.3px;top:412px;width:218px;height:1px;background:#7a7a7a"></div>
<div class="t" style="top:418.34px;font-size:10px;line-height:10px;letter-spacing:0.68px;left:2.20px;">Data compiled June 30, 2023.</div>
<div class="t" style="top:431.44px;font-size:10px;line-height:10px;letter-spacing:0.7px;left:2.20px;">Sources: US Census Bureau; US Department of Housing and Urban Development; National Association of Realtors.</div>
<div class="t" style="top:444.74px;font-size:10px;line-height:10px;letter-spacing:0.68px;left:2.20px;">© 2023 S&amp;P Global.</div>
</body></html>
